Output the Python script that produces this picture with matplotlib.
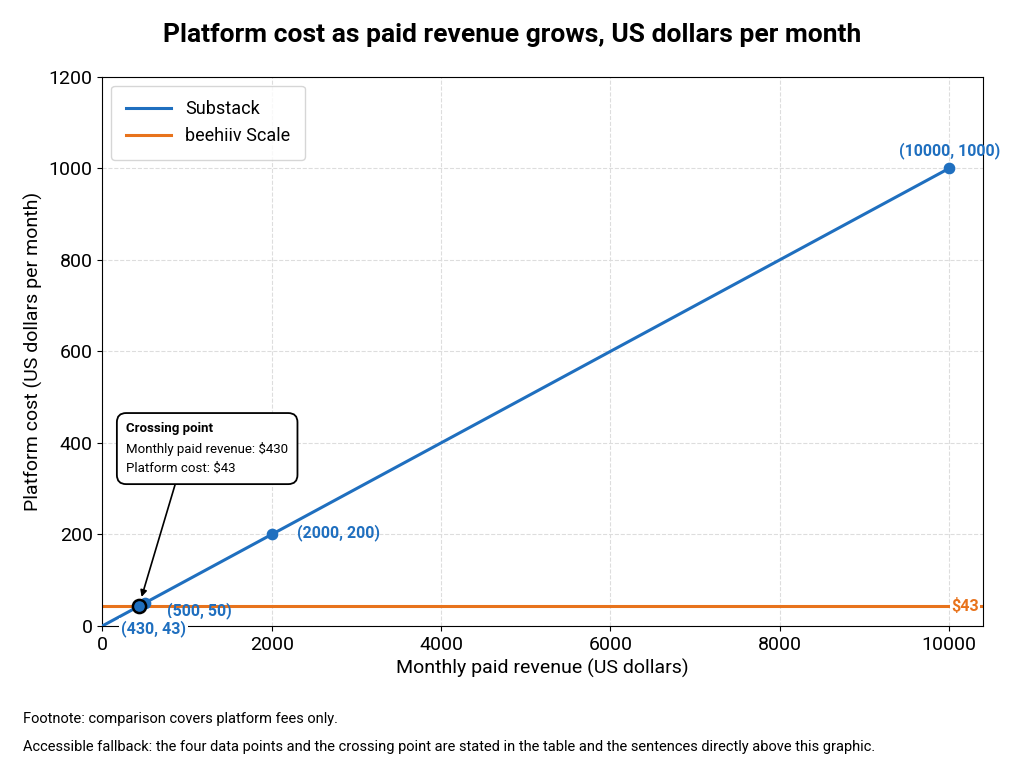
import matplotlib
matplotlib.use('Agg')
import matplotlib.pyplot as plt

# Substack fee: 10% of paid revenue
substack_x = [0, 500, 2000, 10000]
substack_y = [0, 50, 200, 1000]
marked_x = [500, 2000, 10000]
marked_y = [50, 200, 1000]
beehiiv_cost = 43
cross_x, cross_y = 430, 43

blue = '#1f6fbf'
orange = '#e8731c'

plt.rcParams['font.family'] = ['Roboto', 'DejaVu Sans']
fig = plt.figure(figsize=(10.24, 7.68), dpi=100)
ax = fig.add_axes([0.1, 0.185, 0.86, 0.715])

ax.plot(substack_x, substack_y, color=blue, lw=2.2, label='Substack', zorder=3)
ax.axhline(beehiiv_cost, color=orange, lw=2.2, label='beehiiv Scale', zorder=2)
ax.scatter(marked_x, marked_y, color=blue, s=55, zorder=4)
ax.scatter([cross_x], [cross_y], s=90, facecolor=blue, edgecolor='black', lw=1.8, zorder=5)

lab = dict(color=blue, fontsize=11.5, fontweight='bold')
ax.text(10000, 1020, '(10000, 1000)', ha='center', va='bottom', **lab)
ax.text(2300, 203, '(2000, 200)', ha='left', va='center', **lab)
ax.text(1150, 33, '(500, 50)', ha='center', va='center', **lab)
ax.text(600, -5, '(430, 43)', ha='center', va='center', zorder=6,
        bbox=dict(facecolor='white', edgecolor='none', pad=1.5), **lab)
ax.text(10350, beehiiv_cost, '$43', color=orange, fontsize=11.5, fontweight='bold',
        ha='right', va='center', bbox=dict(facecolor='white', edgecolor='none', pad=1))

body = 'Crossing point\nMonthly paid revenue: $430\nPlatform cost: $43'
ax.annotate(body, xy=(cross_x, cross_y), xytext=(280, 445),
            fontsize=9.5, va='top', ha='left', linespacing=1.6, zorder=6,
            arrowprops=dict(arrowstyle='-|>', color='black', lw=1.2, shrinkA=0, shrinkB=7,
                            relpos=(0.32, 0)),
            bbox=dict(boxstyle='round,pad=0.7', facecolor='white', edgecolor='black', lw=1.3))
ax.text(280, 445, 'Crossing point', fontsize=9.5, fontweight='bold', va='top', ha='left',
        zorder=7, bbox=dict(facecolor='white', edgecolor='none', pad=0.5))

ax.set_xlim(0, 10400)
ax.set_ylim(0, 1200)
ax.set_xticks([0, 2000, 4000, 6000, 8000, 10000])
ax.set_yticks(range(0, 1201, 200))
ax.tick_params(labelsize=14)
ax.grid(True, ls='--', color='#dddddd', lw=0.8)
ax.set_xlabel('Monthly paid revenue (US dollars)', fontsize=14)
ax.set_ylabel('Platform cost (US dollars per month)', fontsize=14)
ax.legend(loc='upper left', fontsize=13, borderpad=0.8, handlelength=2.5, fancybox=True)

fig.suptitle('Platform cost as paid revenue grows, US dollars per month',
             fontsize=19, fontweight='bold', y=0.97)
fig.text(0.022, 0.058, 'Footnote: comparison covers platform fees only.', fontsize=10.5)
fig.text(0.022, 0.022, 'Accessible fallback: the four data points and the crossing point are stated '
         'in the table and the sentences directly above this graphic.', fontsize=10.5)

fig.savefig('out.png', dpi=100)
